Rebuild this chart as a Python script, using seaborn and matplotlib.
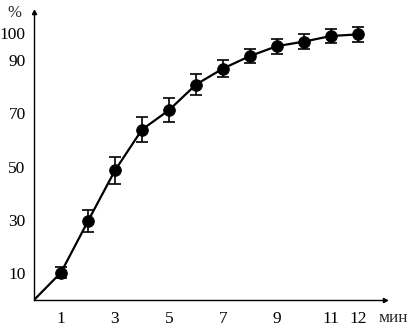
import matplotlib
matplotlib.use("Agg")
import matplotlib.pyplot as plt
import seaborn as sns
import pandas as pd

# данные
minutes = [1, 2, 3, 4, 5, 6, 7, 8, 9, 10, 11, 12]
percent = [10.3, 29.6, 48.6, 63.9, 71.2, 80.8, 86.8, 91.5, 95.2, 96.9, 99.0, 99.6]
errors = [2.0, 4.2, 5.1, 4.8, 4.4, 3.8, 3.2, 2.6, 2.8, 2.7, 2.8, 2.7]
x_ticks = [1, 3, 5, 7, 9, 11, 12]
y_ticks = [10, 30, 50, 70, 90, 100]

sns.set_style("white")
plt.rcParams['font.family'] = ['Liberation Serif', 'DejaVu Serif']

fig = plt.figure(figsize=(4.14, 3.28), dpi=100)
ax = fig.add_axes([34 / 414, 28 / 328, 351 / 414, 288 / 328])

# линия начинается из начала координат
df = pd.DataFrame({"x": [0] + minutes, "y": [0] + percent})
sns.lineplot(data=df, x="x", y="y", ax=ax, color="black", linewidth=1.6)
ax.errorbar(minutes, percent, yerr=errors, fmt="none", ecolor="black",
            elinewidth=1.2, capsize=4.5, capthick=1.2)
sns.scatterplot(x=minutes, y=percent, ax=ax, color="black", s=70,
                edgecolor="black", zorder=5)

ax.set_xlim(0, 13)
ax.set_ylim(0, 108)
ax.set_xticks(x_ticks)
ax.set_yticks(y_ticks)
ax.tick_params(direction="in", length=6, width=1, labelsize=12.5, colors="black")
ax.tick_params(axis="y", pad=6)
ax.tick_params(axis="x", pad=8)
ax.spines["top"].set_visible(False)
ax.spines["right"].set_visible(False)
for s in ["left", "bottom"]:
    ax.spines[s].set_color("black")
    ax.spines[s].set_linewidth(1)
ax.set_xlabel("")
ax.set_ylabel("")

# стрелки осей
ax.plot(1, 0, marker=">", color="black", ms=3, transform=ax.transAxes, clip_on=False)
ax.plot(0, 1, marker="^", color="black", ms=3, transform=ax.transAxes, clip_on=False)

fig.text(14 / 414, 1 - 13 / 328, "%", fontsize=12, ha="center", va="center")
fig.text(379 / 414, 1 - 318 / 328, "мин", fontsize=12.5, ha="left", va="center")

fig.savefig("out.png", dpi=100)
